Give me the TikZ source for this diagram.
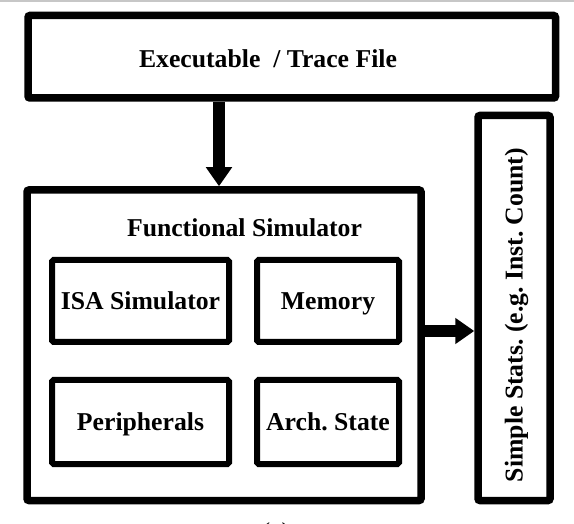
\documentclass[tikz,border=0pt]{standalone}
\usepackage{fontspec}
\setmainfont{Liberation Serif}
\usetikzlibrary{arrows.meta}
\frenchspacing
\begin{document}
\begin{tikzpicture}[x=1pt,y=-1pt,
  outerbox/.style={draw=black,line width=7.5pt,rounded corners=2pt,inner sep=0pt},
  innerbox/.style={draw=black,line width=6pt,rounded corners=1.5pt,inner sep=0pt},
  lbl/.style={font=\fontsize{25.7}{30}\selectfont\bfseries\frenchspacing,inner sep=0pt,anchor=base},
  bigarrow/.style={line width=12pt,-{Triangle[length=19pt,width=25pt]}}]
\useasboundingbox (0,0) rectangle (574,524);
\draw[black!22,line width=1.6pt] (0,0.8) -- (574,0.8);
% boxes
\node[outerbox,minimum width=527.5pt,minimum height=82.5pt] (top) at (291.75,56.75) {};
\node[outerbox,minimum width=394pt,minimum height=310.5pt] (func) at (224,345.25) {};
\node[outerbox,minimum width=72pt,minimum height=385pt] (stats) at (514,308) {};
\node[innerbox,minimum width=177pt,minimum height=82pt] (isa) at (140.5,301) {};
\node[innerbox,minimum width=142pt,minimum height=82pt] (mem) at (328,301) {};
\node[innerbox,minimum width=177pt,minimum height=84pt] (per) at (140.5,422) {};
\node[innerbox,minimum width=142pt,minimum height=84pt] (arch) at (328,422) {};
% labels
\node[lbl] (toplbl) at (268,67.5) {Executable \ / Trace File};
\node[lbl] (funclbl) at (244.5,237) {Functional Simulator};
\node[lbl] (isalbl) at (140.5,310) {ISA Simulator};
\node[lbl] (memlbl) at (328,310) {Memory};
\node[lbl] (perlbl) at (140.5,430.5) {Peripherals};
\node[lbl] (archlbl) at (328,430.5) {Arch. State};
\node[lbl,rotate=90] (statslbl) at (522.5,315) {Simple Stats. (e.g. Inst. Count)};
\node[font=\fontsize{25.7}{30}\selectfont,inner sep=0pt,anchor=base] (cap) at (276,540) {(a)};
% arrows
\draw[bigarrow] ([xshift=-72.75pt]top.south) -- ([xshift=-72.75pt]top.south |- func.north);
\draw[bigarrow] ([yshift=14.25pt]func.east) -- ([yshift=14.25pt]func.east -| stats.west);
\end{tikzpicture}
\end{document}
